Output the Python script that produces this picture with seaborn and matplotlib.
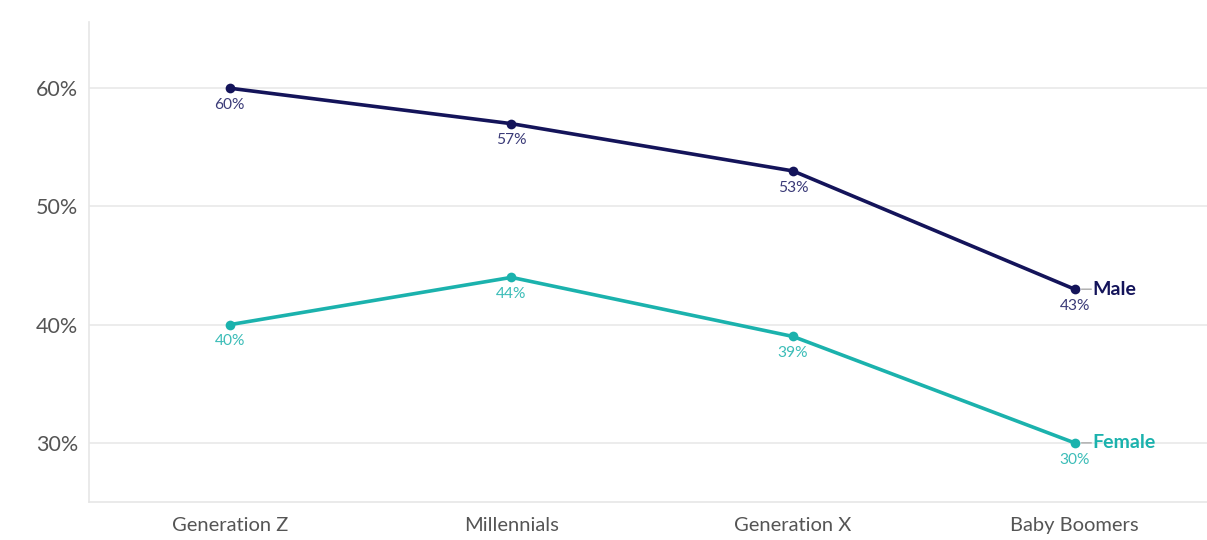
import matplotlib
matplotlib.use("Agg")
import matplotlib.pyplot as plt
import seaborn as sns
import pandas as pd
from matplotlib.ticker import FuncFormatter

generations = ["Generation Z", "Millennials", "Generation X", "Baby Boomers"]
male = [60, 57, 53, 43]
female = [40, 44, 39, 30]
series_names = ["Male", "Female"]
y_ticks = [30, 40, 50, 60]

navy = "#14145a"
teal = "#1bb2ad"
navy_label = "#3b3b78"
teal_label = "#3cbdb8"

df = pd.DataFrame({
    "generation": generations * 2,
    "x": list(range(len(generations))) * 2,
    "value": male + female,
    "gender": [series_names[0]] * len(male) + [series_names[1]] * len(female),
})

sns.set_theme(style="white")
plt.rcParams["font.family"] = ["Lato", "DejaVu Sans"]

fig = plt.figure(figsize=(12.07, 5.4), dpi=100)
ax = fig.add_axes([89 / 1207, 38 / 540, (1207 - 89) / 1207, (502 - 22) / 540])

sns.lineplot(data=df, x="x", y="value", hue="gender",
             palette={"Male": navy, "Female": teal},
             marker="o", markersize=7, markeredgewidth=0, linewidth=2.6,
             legend=False, ax=ax)

ax.set_xlim(-0.5, 3.47)
ax.set_ylim(25, 65.6)
ax.set_xticks(range(len(generations)))
ax.set_xticklabels(generations)
ax.set_yticks(y_ticks)
ax.yaxis.set_major_formatter(FuncFormatter(lambda v, _: f"{v:.0f}%"))
ax.set_xlabel("")
ax.set_ylabel("")

ax.grid(axis="y", color="#e9e9e9", linewidth=1.2)
ax.grid(axis="x", visible=False)
for s in ["top", "right"]:
    ax.spines[s].set_visible(False)
for s in ["left", "bottom"]:
    ax.spines[s].set_color("#e6e6e6")
    ax.spines[s].set_linewidth(1.2)
ax.tick_params(axis="both", length=5, width=1, color="#e6e6e6",
               labelcolor="#555555")
ax.tick_params(axis="y", labelsize=15.5, pad=3)
ax.tick_params(axis="x", labelsize=14.5, pad=6)

# value labels under each point
for vals, col in [(male, navy_label), (female, teal_label)]:
    for i, v in enumerate(vals):
        ax.annotate(f"{v}%", (i, v), xytext=(0, -7), textcoords="offset points",
                    ha="center", va="top", fontsize=11.2, color=col)

# series names at the end of each line
for name, vals, col in [("Male", male, navy), ("Female", female, teal)]:
    last = len(vals) - 1
    ax.annotate("", xy=(last, vals[-1]), xycoords="data",
                xytext=(13, 0), textcoords="offset points",
                arrowprops=dict(arrowstyle="-", color="#aaaaaa", lw=1,
                                shrinkA=1, shrinkB=5))
    ax.annotate(name, (last, vals[-1]), xytext=(13, 0), textcoords="offset points",
                ha="left", va="center", fontsize=14, fontweight="bold", color=col)

fig.savefig("out.png", dpi=100, facecolor="white")
